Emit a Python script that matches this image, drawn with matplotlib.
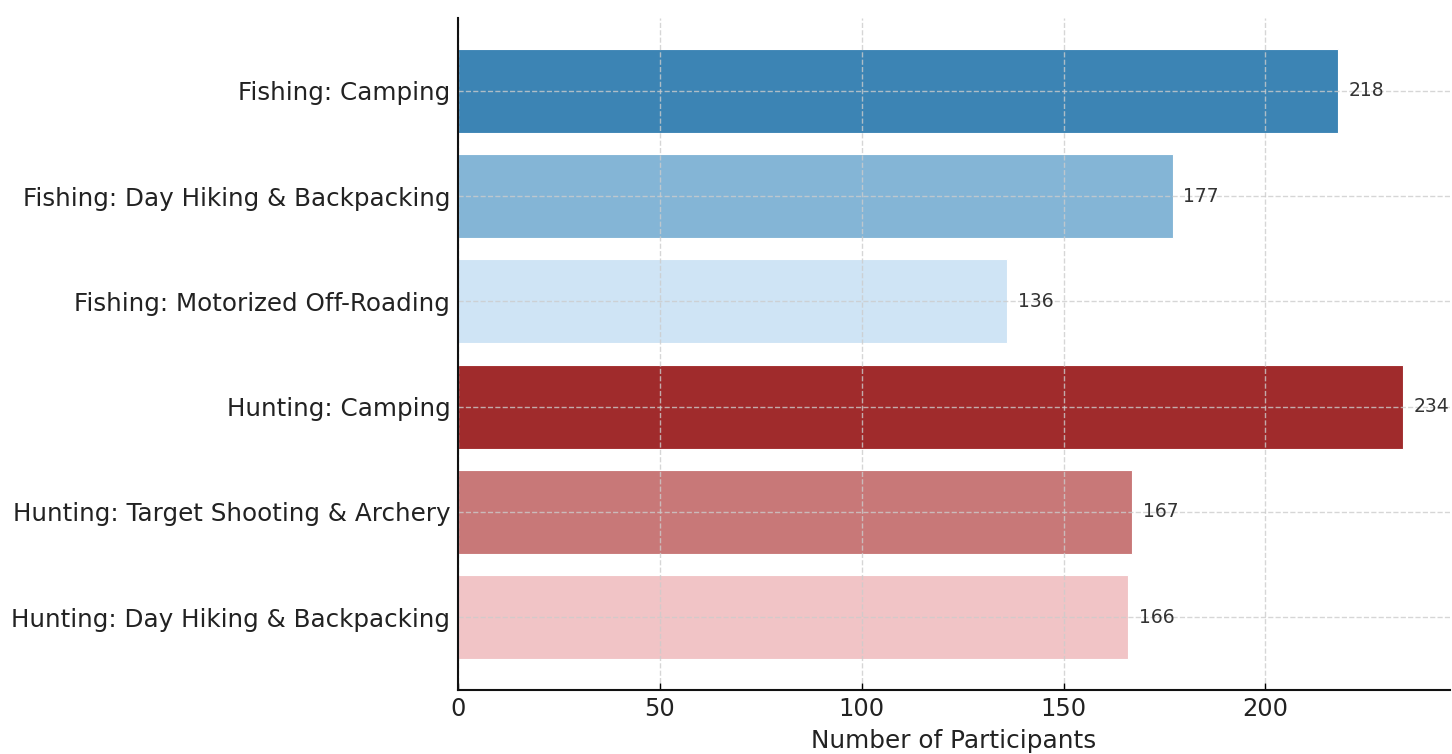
import matplotlib
matplotlib.use("Agg")
import matplotlib.pyplot as plt

categories = [
    "Fishing: Camping",
    "Fishing: Day Hiking & Backpacking",
    "Fishing: Motorized Off-Roading",
    "Hunting: Camping",
    "Hunting: Target Shooting & Archery",
    "Hunting: Day Hiking & Backpacking",
]
values = [218, 177, 136, 234, 167, 166]
colors = ["#3c84b4", "#84b5d6", "#cfe4f5", "#a02b2c", "#c87878", "#f1c4c6"]

plt.rcParams['font.family'] = ['DejaVu Sans']

fig = plt.figure(figsize=(14.52, 7.54), dpi=100)
ax = fig.add_axes([0.3154, 0.0849, 0.6832, 0.8912])

ypos = list(range(len(categories)))
ax.barh(ypos, values, height=0.8, color=colors, edgecolor="white", linewidth=0.8, zorder=1)
ax.set_yticks(ypos)
ax.set_yticklabels(categories, fontsize=17.7, color="#222222")
ax.invert_yaxis()
ax.set_xlim(0, max(values) * 1.05)

for y, v in zip(ypos, values):
    ax.text(v + 2.7, y, str(v), va="center", ha="left", fontsize=13.5, color="#333333", zorder=3)

ax.grid(True, linestyle="--", color="#cccccc", linewidth=1.0, alpha=0.8, zorder=2)
ax.set_axisbelow(False)
for sp in ["top", "right"]:
    ax.spines[sp].set_visible(False)
for sp in ["left", "bottom"]:
    ax.spines[sp].set_linewidth(1.5)
    ax.spines[sp].set_color("#111111")
    ax.spines[sp].set_zorder(4)

ax.tick_params(axis="y", length=0, pad=5.5)
ax.tick_params(axis="x", labelsize=17.4, labelcolor="#222222", direction="in",
               length=5, width=1, pad=5)
ax.set_xlabel("Number of Participants", fontsize=17.8, color="#222222", labelpad=5.5)

fig.savefig("out.png", dpi=100)
